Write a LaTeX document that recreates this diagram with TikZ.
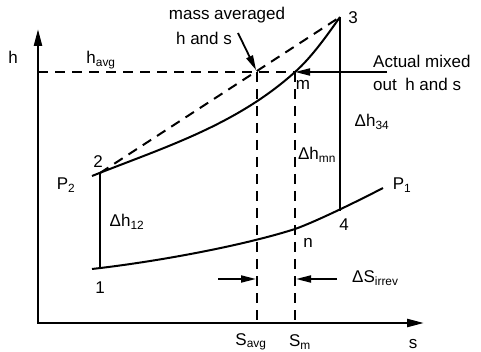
\documentclass[tikz,border=0pt]{standalone}
\usepackage{fontspec}
\setmainfont{Liberation Sans}
\usetikzlibrary{arrows.meta,positioning,calc}

\begin{document}
\begin{tikzpicture}[x=1pt,y=-1pt,
  axis/.style={line width=2.4pt,{Triangle[length=17pt,width=8pt]}-{Triangle[length=17pt,width=8pt]}},
  curve/.style={line width=2pt},
  dashline/.style={line width=2pt,dash pattern=on 10pt off 7pt},
  pointer/.style={line width=1.8pt,-{Triangle[length=15pt,width=7pt]}},
  lbl/.style={font=\fontsize{17}{23}\selectfont,inner sep=0pt}]
\useasboundingbox (0,0) rectangle (481,352);

\coordinate (O) at (38,323);
\coordinate (ytop) at (38,29);
\coordinate (xend) at (424,323);
\coordinate (hy) at (38,72);
\coordinate (p1) at (100,268);
\coordinate (p2) at (100,173);
\coordinate (p3) at (340,17);
\coordinate (p4) at (340,211);
\coordinate (c1) at (92,269);
\coordinate (c2) at (92,176);
\coordinate (e1) at (383,188);
\coordinate (m) at (295,72);
\coordinate (n) at (295,229);
\coordinate (avg) at (257,72);
\coordinate (mixtail) at (387,72);
\coordinate (masstail) at (238,33);
\coordinate (sa) at (257,279);
\coordinate (sb) at (295,279);
\coordinate (satail) at (218,279);
\coordinate (sbtail) at (337,279);

% axes
\draw[axis] (ytop) -- (O) -- (xend);

% constant pressure lines
\draw[curve] (c2) .. controls (162,148) and (235,126) .. (m)
  .. controls (312,57) and (328,34) .. (p3);
\draw[curve] (c1) .. controls (162,261) and (245,245) .. (n)
  .. controls (315,222) and (358,201) .. (e1);
\draw[curve] (p2) -- (p1);
\draw[curve] (p3) -- (p4);

% mixing
\draw[dashline] (p2) -- (p3);
\draw[dashline] (hy) -- (m);
\draw[dashline] (avg) -- (avg |- O);
\draw[dashline] (m) -- (m |- O);
\draw[pointer] (mixtail) -- (m);
\draw[pointer,shorten >=2pt] (masstail) -- (avg);
\draw[pointer,shorten >=1pt] (satail) -- (sa);
\draw[pointer,shorten >=1pt] (sbtail) -- (sb);

\node[lbl] (hlab) at (13,57) {h};
\node[lbl] (slab) at (413,344) {s};
\node[lbl] (havg) at (101,60) {h\textsubscript{avg}};
\node[lbl] (mass) at (227,15) {mass averaged};
\node[lbl] (hands) at (204,38) {h and s};
\node[lbl,anchor=west,align=left] (mixed) at (373,73) {Actual mixed\\out\enspace h and s};
\node[lbl] (l3) at (353,18) {3};
\node[lbl] (lm) at (303,85) {m};
\node[lbl] (dh34) at (372,122) {Δh\textsubscript{34}};
\node[lbl] (dhmn) at (317,155) {Δh\textsubscript{mn}};
\node[lbl] (l2) at (98,162) {2};
\node[lbl] (lP2) at (66,185) {P\textsubscript{2}};
\node[lbl] (dh12) at (127,222) {Δh\textsubscript{12}};
\node[lbl] (l1) at (100,288) {1};
\node[lbl] (lP1) at (402,185) {P\textsubscript{1}};
\node[lbl] (l4) at (344,225) {4};
\node[lbl] (ln) at (308,243) {n};
\node[lbl,anchor=west] (dsirr) at (352,278) {ΔS\textsubscript{irrev}};
\node[lbl] (savg) at (251,342) {S\textsubscript{avg}};
\node[lbl] (sm) at (300,342) {S\textsubscript{m}};
\end{tikzpicture}
\end{document}
